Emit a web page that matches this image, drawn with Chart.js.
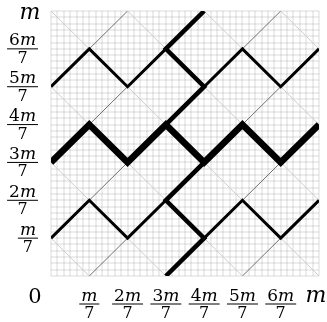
<!DOCTYPE html>
<html>
<head>
<meta charset="utf-8">
<script src="https://cdn.jsdelivr.net/npm/chart.js@4.4.1/dist/chart.umd.min.js"></script>
<style>
  html, body { margin: 0; padding: 0; background: #fff; }
  #wrap { width: 327px; height: 322px; }
</style>
</head>
<body>
<div id="wrap"><canvas id="zigzag-chart"></canvas></div>
<script>
// positions are in units of m/7 (0 .. 7)
const tickPos = [1, 2, 3, 4, 5, 6];
const tickNums = ['m', '2m', '3m', '4m', '5m', '6m'];
const tickDen = '7';

// thick black zigzags
const topRowLeft = [[0, 5], [1, 6], [2, 5], [3, 6]];
const topRowRight = [[4, 5], [5, 6], [6, 5], [7, 6]];
const midRow = [[0, 3], [1, 4], [2, 3], [3, 4], [4, 3], [5, 4], [6, 3], [7, 4]];
const botRowLeft = [[0, 1], [1, 2], [2, 1], [3, 2]];
const botRowRight = [[4, 1], [5, 2], [6, 1], [7, 2]];
const spine = [[4, 7], [3, 6], [4, 5], [3, 4], [4, 3], [3, 2], [4, 1], [3, 0]];

// thin lattice edges
const lightEdges = [
    [[0, 7], [1, 6]], [[0, 5], [1, 4]], [[0, 3], [1, 2]], [[0, 1], [1, 0]],
    [[2, 7], [3, 6]], [[2, 5], [3, 4]], [[2, 3], [3, 2]], [[2, 1], [3, 0]],
    [[4, 7], [5, 6]], [[4, 5], [5, 4]], [[4, 3], [5, 2]], [[4, 1], [5, 0]],
    [[6, 7], [7, 6]], [[6, 5], [7, 4]], [[6, 3], [7, 2]], [[6, 1], [7, 0]]
];
const darkEdges = [
    [[1, 6], [2, 7]], [[1, 4], [2, 5]], [[1, 2], [2, 3]], [[1, 0], [2, 1]],
    [[5, 6], [6, 7]], [[5, 4], [6, 5]], [[5, 2], [6, 3]], [[5, 0], [6, 1]]
];

// fine background grid: 6 cells per m/7
const gridTicks = [];
for (let k = 0; k <= 42; k++) gridTicks.push(k / 6);

function toPts(arr) {
    return arr.map(p => ({ x: p[0], y: p[1] }));
}

function lineSet(arr, color, width, order) {
    return {
        data: toPts(arr),
        showLine: true,
        borderColor: color,
        borderWidth: width,
        borderJoinStyle: 'miter',
        borderCapStyle: 'butt',
        pointRadius: 0,
        fill: false,
        order: order
    };
}

const datasets = [];
lightEdges.forEach(e => datasets.push(lineSet(e, '#cdcdcd', 1, 5)));
darkEdges.forEach(e => datasets.push(lineSet(e, '#707070', 1, 4)));
datasets.push(lineSet(topRowLeft, '#000', 3, 2));
datasets.push(lineSet(topRowRight, '#000', 3, 2));
datasets.push(lineSet(botRowLeft, '#000', 3, 2));
datasets.push(lineSet(botRowRight, '#000', 3, 2));
datasets.push(lineSet(spine, '#000', 4.5, 1));
datasets.push(lineSet(midRow, '#000', 6.5, 0));

const serif = '"DejaVu Serif"';
const fracSize = 17;

function numWidth(ctx, txt, size) {
    const digits = txt.replace('m', '');
    ctx.font = size + 'px ' + serif;
    let w = ctx.measureText(digits).width;
    ctx.font = 'italic ' + size + 'px ' + serif;
    w += ctx.measureText('m').width;
    return w;
}

function drawNum(ctx, txt, left, baseline, size) {
    const digits = txt.replace('m', '');
    ctx.textAlign = 'left';
    ctx.textBaseline = 'alphabetic';
    ctx.font = size + 'px ' + serif;
    ctx.fillText(digits, left, baseline);
    const dw = ctx.measureText(digits).width;
    ctx.font = 'italic ' + size + 'px ' + serif;
    ctx.fillText('m', left + dw, baseline);
}

function drawFrac(ctx, num, cx, barY) {
    const nw = numWidth(ctx, num, fracSize);
    const bw = nw + 4;
    ctx.fillStyle = '#000';
    drawNum(ctx, num, cx - nw / 2, barY - 3.5, fracSize);
    ctx.fillRect(cx - bw / 2, barY - 0.5, bw, 1);
    ctx.font = (fracSize - 1) + 'px ' + serif;
    ctx.textAlign = 'center';
    ctx.fillText(tickDen, cx, barY + 14);
}

const fracLabels = {
    id: 'fracLabels',
    afterDraw(chart) {
        const ctx = chart.ctx;
        const xs = chart.scales.x;
        const ys = chart.scales.y;
        ctx.save();
        ctx.fillStyle = '#000';
        tickPos.forEach((v, i) => {
            // left axis, right aligned at x=38
            const bw = numWidth(ctx, tickNums[i], fracSize) + 4;
            drawFrac(ctx, tickNums[i], 38 - bw / 2, ys.getPixelForValue(v));
            // bottom axis
            drawFrac(ctx, tickNums[i], xs.getPixelForValue(v), 304);
        });
        ctx.textAlign = 'center';
        ctx.textBaseline = 'alphabetic';
        ctx.font = 'italic 22px ' + serif;
        ctx.fillText('m', 30, 19);
        ctx.fillText('m', 316, 302);
        ctx.font = '21px ' + serif;
        ctx.fillText('0', 35, 303);
        ctx.restore();
    }
};

const gridOpts = {
    color: 'rgba(0, 0, 0, 0.07)',
    lineWidth: 2,
    drawTicks: false
};

new Chart(document.getElementById('zigzag-chart'), {
    type: 'scatter',
    data: { datasets: datasets },
    options: {
        responsive: true,
        maintainAspectRatio: false,
        animation: false,
        layout: { padding: { top: 11, right: 8, left: 0, bottom: 0 } },
        plugins: { legend: { display: false }, tooltip: { enabled: false } },
        scales: {
            x: {
                type: 'linear', min: 0, max: 7,
                afterBuildTicks: s => { s.ticks = gridTicks.map(v => ({ value: v })); },
                afterFit: s => { s.height = 46; },
                ticks: { display: false },
                grid: gridOpts,
                border: { display: false }
            },
            y: {
                type: 'linear', min: 0, max: 7,
                afterBuildTicks: s => { s.ticks = gridTicks.map(v => ({ value: v })); },
                afterFit: s => { s.width = 51; },
                ticks: { display: false },
                grid: gridOpts,
                border: { display: false }
            }
        }
    },
    plugins: [fracLabels]
});
</script>
</body>
</html>
